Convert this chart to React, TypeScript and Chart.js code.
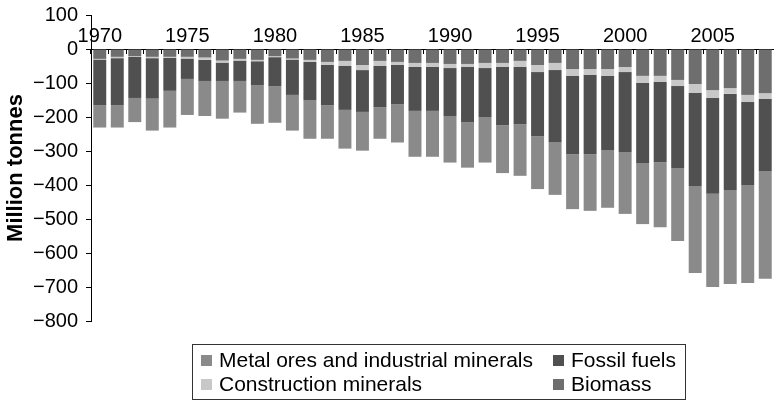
import React, { useEffect, useRef } from 'react';
import { Chart, registerables } from 'chart.js';

Chart.register(...registerables);

const years = [
  '1970', '1971', '1972', '1973', '1974', '1975', '1976', '1977', '1978', '1979',
  '1980', '1981', '1982', '1983', '1984', '1985', '1986', '1987', '1988', '1989',
  '1990', '1991', '1992', '1993', '1994', '1995', '1996', '1997', '1998', '1999',
  '2000', '2001', '2002', '2003', '2004', '2005', '2006', '2007', '2008',
];

const biomass = [
  -29, -23, -21, -23, -23, -23, -25, -34, -29, -32,
  -21, -28, -32, -38, -35, -47, -35, -38, -41, -41,
  -44, -44, -41, -41, -35, -47, -41, -59, -59, -59,
  -53, -79, -79, -91, -103, -121, -115, -135, -130,
];

const construction = [
  -2, -4, -2, -4, -3, -5, -7, -6, -5, -4,
  -3, -3, -6, -9, -15, -15, -15, -9, -12, -12,
  -12, -9, -15, -12, -18, -21, -21, -20, -17, -20,
  -15, -21, -18, -18, -26, -23, -17, -21, -17,
];

const fossil = [
  -134, -138, -121, -119, -97, -60, -62, -54, -60, -70,
  -85, -104, -112, -118, -129, -123, -121, -115, -129, -129,
  -141, -162, -144, -171, -168, -188, -212, -230, -233, -218,
  -235, -235, -236, -241, -274, -282, -283, -244, -212,
];

const metal = [
  -66, -66, -71, -94, -108, -106, -103, -111, -93, -114,
  -108, -105, -114, -99, -114, -114, -93, -113, -135, -135,
  -137, -134, -134, -141, -152, -156, -155, -162, -167, -170,
  -182, -180, -191, -215, -256, -274, -276, -288, -317,
];

const seriesNames = ['Biomass', 'Construction minerals', 'Fossil fuels', 'Metal ores and industrial minerals'];
const seriesColors = ['#6e6e6e', '#c8c8c8', '#505050', '#8a8a8a'];

const FONT = '"Liberation Sans", Arial, Helvetica, sans-serif';

const gridLegend = {
  id: 'gridLegend',
  afterDraw(chart: any) {
    const ctx = chart.ctx as CanvasRenderingContext2D;
    ctx.save();
    ctx.strokeStyle = '#333333';
    ctx.lineWidth = 1;
    ctx.strokeRect(192.5, 344.5, 493, 55);
    const order = [3, 2, 1, 0];
    const cells = [
      [201, 361],
      [553, 361],
      [201, 385],
      [553, 385],
    ];
    ctx.font = `21px ${FONT}`;
    ctx.textBaseline = 'middle';
    ctx.textAlign = 'left';
    order.forEach((di, i) => {
      const ds = chart.data.datasets[di];
      const [x, y] = cells[i];
      ctx.fillStyle = ds.backgroundColor;
      ctx.fillRect(x, y - 6, 11, 11);
      ctx.fillStyle = '#000000';
      ctx.fillText(ds.label, x + 18, y);
    });
    ctx.restore();
  },
};

export default function App() {
  const ref = useRef<HTMLCanvasElement>(null);

  useEffect(() => {
    const values = [biomass, construction, fossil, metal];
    const chart = new Chart(ref.current as HTMLCanvasElement, {
      type: 'bar',
      data: {
        labels: years,
        datasets: values.map((v, i) => ({
          label: seriesNames[i],
          data: v,
          backgroundColor: seriesColors[i],
          borderWidth: 0,
          barPercentage: 0.74,
          categoryPercentage: 1.0,
        })),
      },
      options: {
        responsive: false,
        animation: false,
        devicePixelRatio: 1,
        layout: { padding: { top: 15, bottom: 80, left: 0, right: 0 } },
        plugins: {
          legend: { display: false },
          tooltip: { enabled: false },
        },
        scales: {
          x: {
            type: 'category',
            stacked: true,
            position: { y: 0 } as any,
            offset: true,
            z: 1,
            grid: {
              display: true,
              drawOnChartArea: false,
              drawTicks: true,
              tickLength: 4,
              color: '#000000',
              offset: true,
            },
            border: { display: true, color: '#000000', width: 1 },
            ticks: {
              autoSkip: false,
              maxRotation: 0,
              minRotation: 0,
              padding: -29,
              color: '#000000',
              font: { family: FONT, size: 20 },
              callback: (_v: any, i: number) => (Number(years[i]) % 5 === 0 ? years[i] : ''),
            },
          },
          y: {
            stacked: true,
            min: -800,
            max: 100,
            position: 'left',
            grid: { drawOnChartArea: false, drawTicks: true, tickLength: 5, color: '#000000' },
            border: { display: true, color: '#000000', width: 1 },
            ticks: {
              stepSize: 100,
              padding: 8,
              color: '#000000',
              font: { family: FONT, size: 20 },
              callback: (v: any) => (Number(v) < 0 ? '\u2212' + Math.abs(Number(v)) : String(v)),
            },
            title: {
              display: true,
              text: 'Million tonnes',
              color: '#000000',
              font: { family: FONT, size: 22, weight: 'bold' },
              padding: { top: 3, bottom: 0 },
            },
            afterFit: (s: any) => {
              s.width = 91;
              s.paddingTop = 0;
              s.paddingBottom = 0;
            },
          },
        },
      },
      plugins: [gridLegend],
    } as any);
    return () => chart.destroy();
  }, []);

  return (
    <div style={{ position: 'absolute', left: 0, top: 0, width: 774, height: 401, background: '#ffffff' }}>
      <canvas ref={ref} width={774} height={401} style={{ display: 'block', width: 774, height: 401 }} />
    </div>
  );
}
